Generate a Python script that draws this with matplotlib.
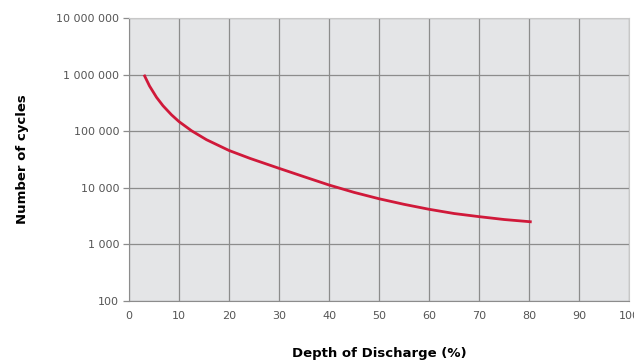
import matplotlib
matplotlib.use("Agg")
import matplotlib.pyplot as plt
from matplotlib.ticker import FixedLocator, FixedFormatter

# values
dod = [3, 4.1, 5.5, 6.8, 8.5, 10, 12.5, 15.5, 20, 24.2, 30, 35, 40,
       45, 50, 55, 60, 65, 70, 75, 80.5]
cycles = [1000000, 631000, 398000, 282000, 195000, 148000, 102000, 70800,
          45700, 33100, 22100, 15700, 11200, 8300, 6400, 5100, 4170, 3510,
          3090, 2750, 2500]

x_ticks = [0, 10, 20, 30, 40, 50, 60, 70, 80, 90, 100]
y_ticks = [100, 1000, 10000, 100000, 1000000, 10000000]
y_labels = ["100", "1 000", "10 000", "100 000", "1 000 000", "10 000 000"]

fig = plt.figure(figsize=(6.34, 3.63), dpi=100)
ax = fig.add_axes([0.2035, 0.171, 0.789, 0.779])
ax.set_facecolor("#e4e5e7")

ax.plot(dod, cycles, color="#d0193a", lw=2.0, solid_capstyle="butt",
        solid_joinstyle="round", zorder=3)

ax.set_yscale("log")
ax.set_xlim(0, 100)
ax.set_ylim(100, 1e7)
ax.xaxis.set_major_locator(FixedLocator(x_ticks))
ax.yaxis.set_major_locator(FixedLocator(y_ticks))
ax.yaxis.set_major_formatter(FixedFormatter(y_labels))
ax.yaxis.set_minor_locator(FixedLocator([]))

ax.grid(True, color="#8c8c8c", lw=0.9, zorder=1)
ax.set_axisbelow(True)

for side in ["top", "right"]:
    ax.spines[side].set_color("#c8c8c8")
for side in ["left", "bottom"]:
    ax.spines[side].set_color("#8c8c8c")

ax.tick_params(axis="x", length=0, pad=7, labelsize=8, labelcolor="#555555")
ax.tick_params(axis="y", length=4, width=0.9, color="#8c8c8c", pad=3,
               labelsize=8, labelcolor="#555555")

ax.set_xlabel("Depth of Discharge (%)", fontsize=9.5, fontweight="bold", labelpad=19)
ax.set_ylabel("Number of cycles", fontsize=9.5, fontweight="bold", labelpad=20)

fig.savefig("out.png", dpi=100)
